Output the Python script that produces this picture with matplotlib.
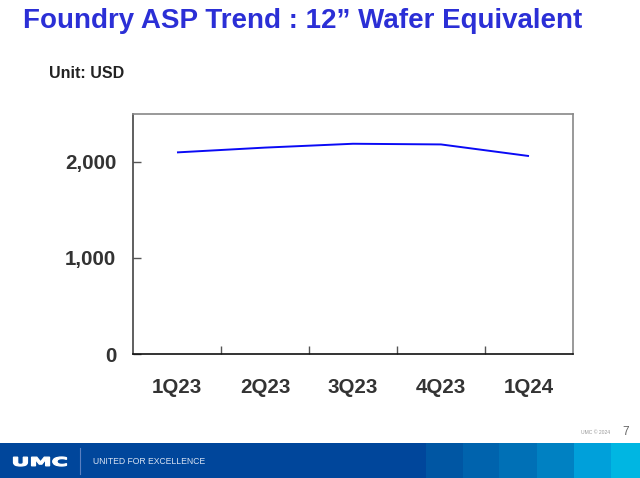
import matplotlib
matplotlib.use('Agg')
import matplotlib.pyplot as plt
from matplotlib.patches import Rectangle, PathPatch
from matplotlib.textpath import TextPath
from matplotlib.font_manager import FontProperties
from matplotlib.transforms import Affine2D

plt.rcParams['font.family'] = ['Liberation Sans', 'DejaVu Sans']

# ── Data ────────────────────────────────────────────────────
quarters = ['1Q23', '2Q23', '3Q23', '4Q23', '1Q24']
asp_usd = [2100, 2150, 2190, 2183, 2062]
y_ticks = [0, 1000, 2000]

W, H = 640, 478
fig = plt.figure(figsize=(W / 100, H / 100), dpi=100)
fig.patch.set_facecolor('white')

# ── Title / unit ────────────────────────────────────────────
fig.text(23 / W, 1 - 21 / H, 'Foundry ASP Trend : 12\u201d Wafer Equivalent',
         fontsize=20, fontweight='bold', color='#2B2FD6',
         ha='left', va='center')
fig.text(49 / W, 1 - 73 / H, 'Unit: USD', fontsize=11.5, fontweight='bold',
         color='#222222', ha='left', va='center')

# ── Chart ───────────────────────────────────────────────────
ax = fig.add_axes([133 / W, (H - 354) / H, 440 / W, 240 / H])
x = range(len(quarters))
ax.plot(x, asp_usd, color='#0A0AF5', linewidth=1.4, solid_capstyle='butt')

ax.set_xlim(-0.5, len(quarters) - 0.5)
ax.set_ylim(0, 2500)
ax.set_yticks(y_ticks)
ax.set_yticklabels([f'{v:,}' for v in y_ticks])
ax.set_xticks([i + 0.5 for i in range(len(quarters) - 1)])
ax.set_xticklabels([])
ax.set_xticks(list(x), minor=True)
ax.set_xticklabels(quarters, minor=True)

ax.tick_params(axis='y', direction='in', length=6, width=1, color='#555555',
               pad=12, labelsize=14.8, labelcolor='#333333')
ax.tick_params(axis='x', which='major', direction='in', length=6, width=1,
               color='#555555')
ax.tick_params(axis='x', which='minor', length=0, pad=17, labelsize=14.8,
               labelcolor='#333333')
for lbl in ax.get_yticklabels() + ax.get_xticklabels(minor=True):
    lbl.set_fontweight('bold')

ax.spines['top'].set_color('#888888')
ax.spines['right'].set_color('#888888')
ax.spines['left'].set_color('#444444')
ax.spines['bottom'].set_color('#111111')
for s in ax.spines.values():
    s.set_linewidth(1.2)

# ── Footer ──────────────────────────────────────────────────
fa = fig.add_axes([0, 0, 1, 35 / H])
fa.set_xlim(0, W)
fa.set_ylim(0, 35)
fa.axis('off')
fa.add_patch(Rectangle((0, 0), W, 35, color='#00469B', lw=0))
stripe_cols = ['#0056A3', '#0063AD', '#0070B6', '#0081C2', '#00A0DA', '#00B6E2']
edges = [426, 463, 499, 537, 574, 611, 640]
for c, x0, x1 in zip(stripe_cols, edges[:-1], edges[1:]):
    fa.add_patch(Rectangle((x0, 0), x1 - x0, 35, color=c, lw=0))

# wide "UMC" logo, stretched text path
tp = TextPath((0, 0), 'UMC', size=10,
              prop=FontProperties(family='DejaVu Sans', weight='bold'))
bb = tp.get_extents()
sx = 53 / bb.width
sy = 9 / bb.height
tr = Affine2D().translate(-bb.x0, -bb.y0).scale(sx, sy).translate(13.5, 12)
fa.add_patch(PathPatch(tr.transform_path(tp), facecolor='white',
                       edgecolor='white', lw=0.9))

fa.plot([80, 80], [4, 30], color='#5A7FC0', lw=0.8)
fa.text(93, 16.5, 'UNITED FOR EXCELLENCE', fontsize=6.2, color='#D8E2F2',
        ha='left', va='center')

fig.text(610 / W, 1 - 433 / H, 'UMC \u00a9 2024', fontsize=3.6, color='#999999',
         ha='right', va='center')
fig.text(622 / W, 1 - 432 / H, '7', fontsize=8.5, color='#666666',
         ha='left', va='center')

fig.savefig('out.png', dpi=100)
